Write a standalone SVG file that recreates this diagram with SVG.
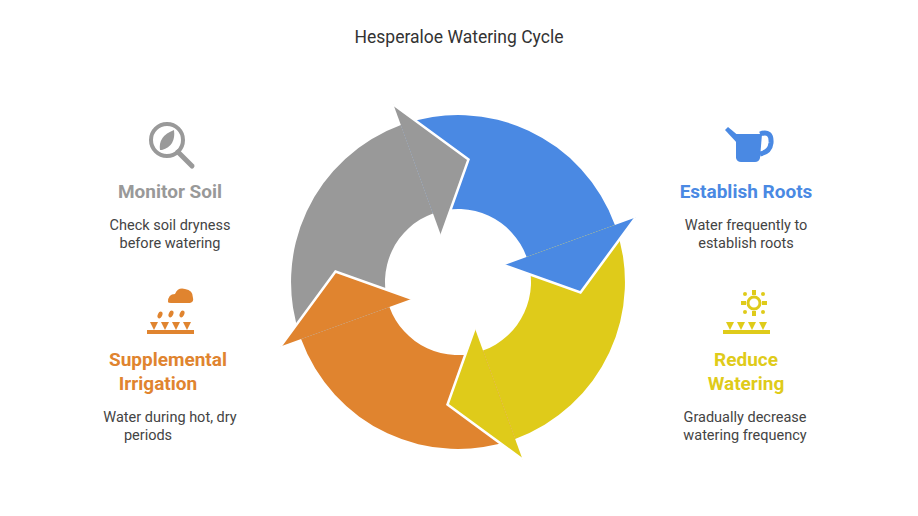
<svg xmlns="http://www.w3.org/2000/svg" width="918" height="516" viewBox="0 0 918 516">
<style>
text{font-family:Roboto,"Liberation Sans",sans-serif;text-anchor:middle}
.t{font-size:17.5px;fill:#333}
.h{font-size:19px;font-weight:bold}
.d{font-size:14.5px;fill:#444}
.seam{fill:none;stroke:#fff;stroke-width:2.5;stroke-linejoin:miter}
</style>
<rect width="918" height="516" fill="#fff"/>
<text class="t" x="459" y="43">Hesperaloe Watering Cycle</text>
<g id="connectors">
<path fill="#4A89E3" d="M400.9,125.1 A167,167 0 0 1 614.9,224.9 L526.6,257.0 A73,73 0 0 0 433.0,213.4 Z"/>
<path fill="#DFCB1A" d="M614.9,224.9 A167,167 0 0 1 515.1,438.9 L483.0,350.6 A73,73 0 0 0 526.6,257.0 Z"/>
<path fill="#E0842F" d="M515.1,438.9 A167,167 0 0 1 301.1,339.1 L389.4,307.0 A73,73 0 0 0 483.0,350.6 Z"/>
<path fill="#999999" d="M301.1,339.1 A167,167 0 0 1 400.9,125.1 L433.0,213.4 A73,73 0 0 0 389.4,307.0 Z"/>
<path fill="#4A89E3" d="M635.6,217.4 L580.5,292.5 L504.0,265.2 Z"/>
<path class="seam" d="M635.6,217.4 L580.5,292.5 L504.0,265.2"/>
<path fill="#DFCB1A" d="M522.6,459.6 L447.5,404.5 L474.8,328.0 Z"/>
<path class="seam" d="M522.6,459.6 L447.5,404.5 L474.8,328.0"/>
<path fill="#E0842F" d="M280.4,346.6 L335.5,271.5 L412.0,298.8 Z"/>
<path class="seam" d="M280.4,346.6 L335.5,271.5 L412.0,298.8"/>
<path fill="#999999" d="M393.4,104.4 L468.5,159.5 L441.2,236.0 Z"/>
<path class="seam" d="M393.4,104.4 L468.5,159.5 L441.2,236.0"/>
</g>
<g id="monitor-soil">
<circle cx="167" cy="140" r="16" fill="none" stroke="#999" stroke-width="4"/>
<line x1="178" y1="152" x2="192" y2="166" stroke="#999" stroke-width="5" stroke-linecap="round"/>
<path d="M160,150 Q158,136 174,130 Q176,146 162,150 Z" fill="#999"/>
<text class="h" x="170" y="198" fill="#999">Monitor Soil</text>
<text class="d" x="170" y="230">Check soil dryness</text>
<text class="d" x="170" y="248">before watering</text>
</g>
<g id="establish-roots">
<path d="M736,134 L762,134 L760,158 Q759,162 755,162 L741,162 Q737,162 736,158 Z" fill="#4A89E3"/>
<path d="M760,134 Q772,130 771,143 Q770,152 760,154" fill="none" stroke="#4A89E3" stroke-width="5"/>
<path d="M738,144 L725,130 L728,127 L740,137 Z" fill="#4A89E3"/>
<text class="h" x="746" y="198" fill="#4A89E3">Establish Roots</text>
<text class="d" x="746" y="230">Water frequently to</text>
<text class="d" x="746" y="248">establish roots</text>
</g>
<g id="supplemental-irrigation">
<path d="M168,302 Q168,294 175,294 Q178,287 185,289 Q193,290 193,298 Q194,302 190,303 L171,303 Q168,303 168,302 Z" fill="#E0842F"/>
<g fill="#E0842F">
<ellipse cx="160" cy="315" rx="2.2" ry="3.5" transform="rotate(25 160 315)"/>
<ellipse cx="171" cy="314" rx="2.2" ry="3.5" transform="rotate(25 171 314)"/>
<ellipse cx="182" cy="314" rx="2.2" ry="3.5" transform="rotate(25 182 314)"/>
<rect x="147" y="330" width="47" height="4"/>
<path d="M150,322 L154,330 L158,322 Z M161,322 L165,330 L169,322 Z M172,322 L176,330 L180,322 Z M183,322 L187,330 L191,322 Z"/>
</g>
<text class="h" x="168" y="366" fill="#E0842F">Supplemental</text>
<text class="h" x="158" y="390" fill="#E0842F">Irrigation</text>
<text class="d" x="170" y="422">Water during hot, dry</text>
<text class="d" x="148" y="440">periods</text>
</g>
<g id="reduce-watering">
<g fill="#DFCB1A">
<circle cx="754" cy="303" r="6" fill="none" stroke="#DFCB1A" stroke-width="3"/>
<rect x="752" y="290" width="4" height="5"/><rect x="752" y="311" width="4" height="5"/>
<rect x="741" y="301" width="5" height="4"/><rect x="762" y="301" width="5" height="4"/>
<circle cx="745" cy="294" r="2"/><circle cx="763" cy="294" r="2"/><circle cx="745" cy="312" r="2"/><circle cx="763" cy="312" r="2"/>
<rect x="723" y="330" width="47" height="4"/>
<path d="M726,322 L730,330 L734,322 Z M737,322 L741,330 L745,322 Z M748,322 L752,330 L756,322 Z M759,322 L763,330 L767,322 Z"/>
</g>
<text class="h" x="746" y="366" fill="#DFCB1A">Reduce</text>
<text class="h" x="746" y="390" fill="#DFCB1A">Watering</text>
<text class="d" x="745" y="422">Gradually decrease</text>
<text class="d" x="745" y="440">watering frequency</text>
</g>
</svg>
